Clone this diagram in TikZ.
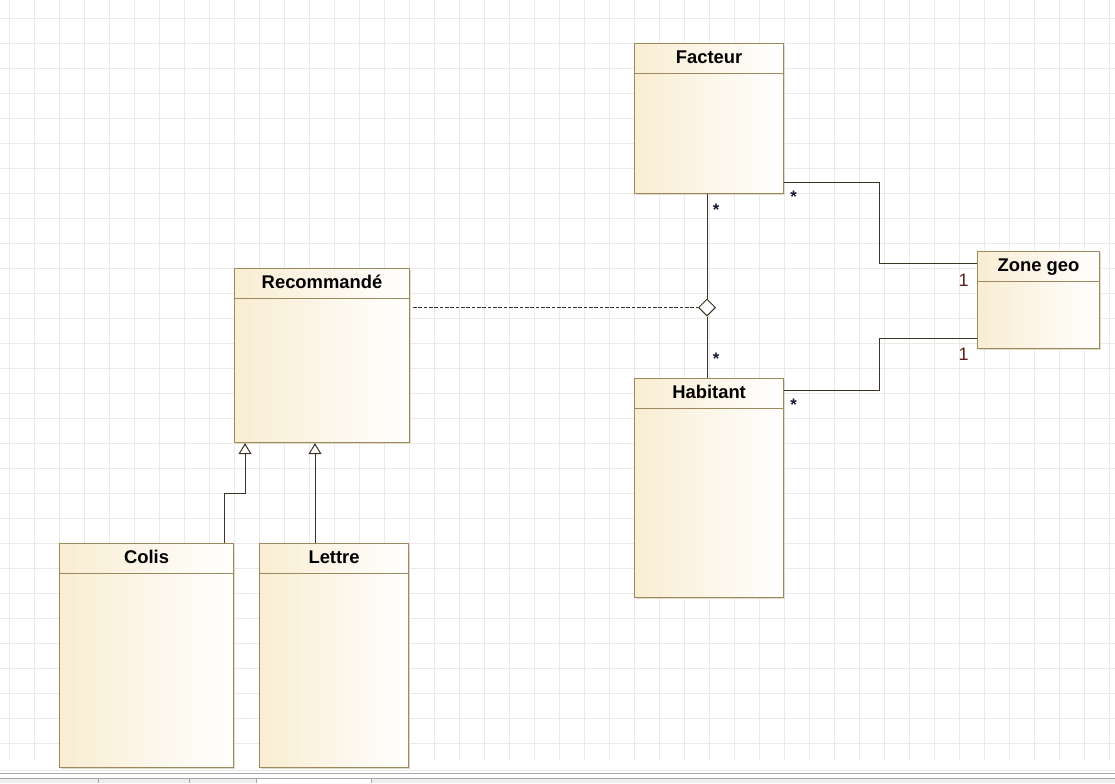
\documentclass[tikz,border=0pt]{standalone}
\usepackage{fontspec}
\setmainfont{Liberation Sans}
\usetikzlibrary{arrows.meta,shapes.geometric,calc,shadows}

\definecolor{gridc}{HTML}{EAEAEA}
\definecolor{boxline}{HTML}{9C8A5E}
\definecolor{boxfill}{HTML}{F9EDD2}
\definecolor{boxshadow}{HTML}{E2DBC9}
\definecolor{linec}{HTML}{3B3325}
\definecolor{multc}{HTML}{5C1F17}
\definecolor{starc}{HTML}{101830}
\definecolor{tabbar}{HTML}{EEEEEE}
\definecolor{tabedge}{HTML}{A6A6A6}

\tikzset{
  gridline/.style={draw=gridc, line width=0.75pt},
  classbox/.style={draw=boxline, line width=0.85pt, left color=boxfill, right color=white,
    inner sep=0pt, anchor=north west,
    drop shadow={shadow xshift=1.2pt, shadow yshift=-1.2pt, fill=boxshadow, opacity=1}},
  classtitle/.style={anchor=base, inner sep=0pt, font=\bfseries\fontsize{13.8}{16}\selectfont},
  classrule/.style={draw=boxline, line width=0.75pt},
  assoc/.style={draw=linec, line width=0.75pt},
  dep/.style={draw=linec, line width=0.75pt, dash pattern=on 2.6pt off 1.4pt},
  inherit/.style={draw=linec, line width=0.75pt,
    -{Triangle[length=8.25pt, width=9.75pt, fill=white]}},
  aggr/.style={diamond, draw=linec, line width=0.75pt, fill=white, inner sep=0pt,
    minimum width=12.75pt, minimum height=12.75pt},
  mult/.style={anchor=center, inner sep=0pt, text=multc, font=\fontsize{13.5}{16}\selectfont},
  star/.style={anchor=base, inner sep=0pt, text=starc, font=\bfseries\fontsize{12.5}{14}\selectfont},
}

% name, x, y, width, height, title (pixel units, y downwards)
\newcommand\umlclass[6]{%
  \node[classbox, minimum width={#4*0.75pt}, minimum height={#5*0.75pt}] (#1) at (#2,#3) {};
  \node[classtitle] (#1-title) at ($(#1.north)+(0,20.5)$) {#6};
  \draw[classrule] ($(#1.north west)+(0,30)$) -- ($(#1.north east)+(0,30)$);
}

\begin{document}
\begin{tikzpicture}[x=0.75pt,y=-0.75pt]
  \useasboundingbox (0,0) rectangle (1115,783);
  \fill[white] (0,0) rectangle (1115,783);

  % canvas grid
  \foreach \i in {0,...,44} \draw[gridline] ({9+25*\i},0) -- ({9+25*\i},760);
  \foreach \j in {0,...,29} \draw[gridline] (0,{18+25*\j}) -- (1115,{18+25*\j});

  % classes
  \umlclass{facteur}{634}{43}{149}{150}{Facteur}
  \umlclass{zone}{977}{251}{122}{97}{Zone geo}
  \umlclass{rec}{234}{268}{175}{174}{Recommandé}
  \umlclass{hab}{634}{378}{149}{219}{Habitant}
  \umlclass{colis}{59}{543}{174}{224}{Colis}
  \umlclass{lettre}{259}{543}{149}{224}{Lettre}

  % Facteur -- Zone geo
  \draw[assoc] (facteur.east |- 0,182) -- (879,182) -- (879,263) -- (zone.west |- 0,263);
  \node[star] (s1) at (793.5,202) {*};
  \node[mult] (m1) at (963.5,280) {1};

  % Habitant -- Zone geo
  \draw[assoc] (hab.east |- 0,390) -- (879,390) -- (879,338) -- (zone.west |- 0,338);
  \node[star] (s2) at (793.5,410.5) {*};
  \node[mult] (m2) at (963.5,354) {1};

  % Facteur -- Habitant association with its class
  \node[aggr] (dia) at (707,307.5) {};
  \draw[assoc] (dia.north |- facteur.south) -- (dia.north);
  \draw[assoc] (dia.south) -- (dia.south |- hab.north);
  \node[star] (s3) at (716,215.5) {*};
  \node[star] (s4) at (716,364.5) {*};
  \draw[dep] ($(rec.east |- dia.west)+(3,0)$) -- (dia.west);

  % generalisation
  \coordinate (g1) at ($(rec.south west)+(11,0)$);
  \coordinate (g2) at ($(rec.south west)+(81,0)$);
  \draw[inherit] ($(colis.north east)+(-10,0)$) -- ++(0,-50) -| (g1);
  \draw[inherit] (g2 |- lettre.north) -- (g2);

  % tab bar under the canvas
  \draw[draw=gridc, line width=0.75pt] (0,770.5) -- (1115,770.5);
  \draw[draw=tabedge, line width=0.9pt] (0,773.5) -- (1115,773.5);
  \fill[tabbar] (0,778) rectangle (1115,783);
  \draw[draw=tabedge, line width=0.75pt] (0,778.5) -- (256,778.5);
  \draw[draw=tabedge, line width=0.75pt] (371,778.5) -- (1115,778.5);
  \fill[white] (256,779) rectangle (371,783);
  \draw[draw=tabedge, line width=0.75pt] (256,783) -- (256,778.5) -- (371,778.5) -- (371,783);
  \draw[draw=tabedge, line width=0.75pt] (98,779) -- (98,783);
  \draw[draw=tabedge, line width=0.75pt] (189,779) -- (189,783);
\end{tikzpicture}
\end{document}
